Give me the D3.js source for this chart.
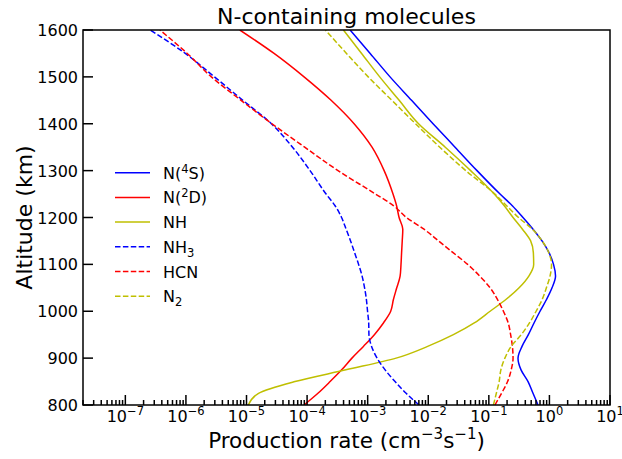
<!DOCTYPE html>
<html>
<head>
<meta charset="utf-8">
<script src="https://cdn.jsdelivr.net/npm/d3@7"></script>
<style>
    body { margin: 0; background: #fff; }
    text { font-family: "DejaVu Sans", sans-serif; fill: #000; }
</style>
</head>
<body>
<script>
//altitude grid (km)
var altitude = [800, 825, 850, 875, 900, 925, 950, 975, 1000, 1025, 1050, 1075, 1100,
    1125, 1150, 1175, 1200, 1225, 1250, 1300, 1350, 1400, 1450, 1500, 1550, 1600];

//production rates (cm-3 s-1)
var n4s = [0.649, 0.536, 0.444, 0.340, 0.303, 0.353, 0.449, 0.557, 0.700, 0.895, 1.104, 1.262, 1.169,
    0.984, 0.755, 0.537, 0.366, 0.244, 0.153, 0.0638, 0.0277, 0.0120, 5.30e-3, 2.34e-3, 1.10e-3, 5.13e-4];
var n2d = [8.91e-5, 1.51e-4, 2.40e-4, 3.72e-4, 5.50e-4, 8.51e-4, 1.29e-3, 1.82e-3, 2.40e-3, 2.66e-3, 3.02e-3, 3.43e-3, 3.55e-3,
    3.63e-3, 3.72e-3, 3.80e-3, 3.30e-3, 3.00e-3, 2.62e-3, 1.87e-3, 1.18e-3, 5.97e-4, 2.49e-4, 8.91e-5, 2.85e-5, 7.76e-6];
var nh = [1.07e-5, 1.58e-5, 6.31e-5, 4.37e-4, 2.95e-3, 9.77e-3, 0.0260, 0.0575, 0.105, 0.191, 0.316, 0.457, 0.550,
    0.543, 0.490, 0.359, 0.251, 0.180, 0.123, 0.0501, 0.0191, 6.92e-3, 3.31e-3, 1.58e-3, 7.94e-4, 3.98e-4];
var nh3 = [7.05e-3, 4.31e-3, 2.83e-3, 1.94e-3, 1.43e-3, 1.16e-3, 1.05e-3, 1.04e-3, 9.95e-4, 9.53e-4, 8.89e-4, 8.09e-4, 7.08e-4,
    6.08e-4, 5.22e-4, 4.41e-4, 3.71e-4, 2.90e-4, 2.06e-4, 1.12e-4, 5.75e-5, 2.57e-5, 8.71e-6, 2.95e-6, 9.77e-7, 2.57e-7];
var hcn = [0.126, 0.162, 0.204, 0.234, 0.251, 0.245, 0.229, 0.209, 0.174, 0.139, 0.105, 0.0708, 0.0447,
    0.0257, 0.0148, 8.51e-3, 4.37e-3, 2.69e-3, 1.35e-3, 3.24e-4, 9.12e-5, 2.63e-5, 8.13e-6, 2.63e-6, 1.05e-6, 3.72e-7];
var n2 = [0.119, 0.133, 0.148, 0.158, 0.184, 0.234, 0.343, 0.468, 0.603, 0.759, 0.891, 1.023, 1.084,
    0.977, 0.759, 0.525, 0.309, 0.197, 0.126, 0.0417, 0.0155, 6.17e-3, 2.51e-3, 1.02e-3, 4.47e-4, 2.00e-4];

//series names, colours, dashed or not
var labels = [["N(", "4", "S)"], ["N(", "2", "D)"], ["NH"], ["NH", "3", ""], ["HCN"], ["N", "2", ""]];
var labelKind = ["sup", "sup", "none", "sub", "none", "sub"];
var colors = ["#0000ff", "#ff0000", "#bfbf00", "#0000ff", "#ff0000", "#bfbf00"];
var dashed = [false, false, false, true, true, true];
var values = [n4s, n2d, nh, nh3, hcn, n2];

var xDomain = [2e-8, 10];
var yDomain = [800, 1600];
var yTicks = [800, 900, 1000, 1100, 1200, 1300, 1400, 1500, 1600];

var width = 622,
    height = 459;
var margin = {left: 83, right: 12, top: 30, bottom: 54};

var svg = d3.select("body")
    .append("svg")
    .attr("width", width)
    .attr("height", height);

var x = d3.scaleLog()
    .domain(xDomain)
    .range([margin.left, width - margin.right]);

var y = d3.scaleLinear()
    .domain(yDomain)
    .range([height - margin.bottom, margin.top]);

var x0 = x.range()[0], x1 = x.range()[1];
var y0 = y.range()[0], y1 = y.range()[1];

//clip so lines stop at the frame
svg.append("clipPath")
    .attr("id", "plotclip")
    .append("rect")
    .attr("x", x0).attr("y", y1)
    .attr("width", x1 - x0).attr("height", y0 - y1);

var line = d3.line()
    .x(function(d){ return x(d[1]); })
    .y(function(d){ return y(d[0]); })
    .curve(d3.curveMonotoneY);

var plot = svg.append("g").attr("clip-path", "url(#plotclip)");

values.forEach(function(v, i){
    plot.append("path")
        .datum(d3.zip(altitude, v))
        .attr("fill", "none")
        .attr("stroke", colors[i])
        .attr("stroke-width", 1.5)
        .attr("stroke-dasharray", dashed[i] ? "5.5,2.4" : null)
        .attr("d", line);
});

//bottom axis: inward ticks, major at decades
var xTickVals = x.ticks().filter(function(t){ return t >= xDomain[0] && t <= xDomain[1]; });
var xg = svg.append("g");
xTickVals.forEach(function(t){
    var e = Math.log10(t);
    var major = Math.abs(e - Math.round(e)) < 1e-6;
    xg.append("line")
        .attr("x1", x(t)).attr("x2", x(t))
        .attr("y1", y0).attr("y2", y0 - (major ? 10 : 5))
        .attr("stroke", "#000")
        .attr("stroke-width", 1.5);
    if (major) {
        var lab = xg.append("text")
            .attr("x", x(t))
            .attr("y", 422)
            .attr("text-anchor", "middle")
            .style("font-size", "16px");
        lab.append("tspan").text("10");
        lab.append("tspan")
            .attr("dy", -7)
            .style("font-size", "11.5px")
            .text((Math.round(e) < 0 ? "\u2212" : "") + Math.abs(Math.round(e)));
    }
});

//left axis
var yg = svg.append("g");
yTicks.forEach(function(t){
    yg.append("line")
        .attr("x1", x0).attr("x2", x0 + 10)
        .attr("y1", y(t)).attr("y2", y(t))
        .attr("stroke", "#000")
        .attr("stroke-width", 1.5);
    yg.append("text")
        .attr("x", x0 - 5)
        .attr("y", y(t) + 6)
        .attr("text-anchor", "end")
        .style("font-size", "16px")
        .text(t);
});

//frame
svg.append("rect")
    .attr("x", x0).attr("y", y1)
    .attr("width", x1 - x0).attr("height", y0 - y1)
    .attr("fill", "none")
    .attr("stroke", "#000")
    .attr("stroke-width", 1.5);

//title and axis labels
svg.append("text")
    .attr("x", (x0 + x1) / 2)
    .attr("y", 23.5)
    .attr("text-anchor", "middle")
    .style("font-size", "22px")
    .text("N-containing molecules");

var xl = svg.append("text")
    .attr("x", (x0 + x1) / 2)
    .attr("y", 448)
    .attr("text-anchor", "middle")
    .style("font-size", "21.5px");
xl.append("tspan").text("Production rate (cm");
xl.append("tspan").attr("dy", -9).style("font-size", "15px").text("\u22123");
xl.append("tspan").attr("dy", 9).text("s");
xl.append("tspan").attr("dy", -9).style("font-size", "15px").text("\u22121");
xl.append("tspan").attr("dy", 9).text(")");

svg.append("text")
    .attr("transform", "translate(32," + ((y0 + y1) / 2) + ") rotate(-90)")
    .attr("text-anchor", "middle")
    .style("font-size", "22px")
    .text("Altitude (km)");

//legend
var legend = svg.append("g");
values.forEach(function(v, i){
    var ly = 172.7 + i * 24.7;
    legend.append("line")
        .attr("x1", 115).attr("x2", 150)
        .attr("y1", ly).attr("y2", ly)
        .attr("stroke", colors[i])
        .attr("stroke-width", 1.5)
        .attr("stroke-dasharray", dashed[i] ? "5.5,2.4" : null);
    var t = legend.append("text")
        .attr("x", 163)
        .attr("y", ly + 6)
        .style("font-size", "16px");
    t.append("tspan").text(labels[i][0]);
    if (labelKind[i] == "sup") {
        t.append("tspan").attr("dy", -6).style("font-size", "11.5px").text(labels[i][1]);
        t.append("tspan").attr("dy", 6).text(labels[i][2]);
    } else if (labelKind[i] == "sub") {
        t.append("tspan").attr("dy", 4).style("font-size", "11.5px").text(labels[i][1]);
    }
});
</script>
</body>
</html>
